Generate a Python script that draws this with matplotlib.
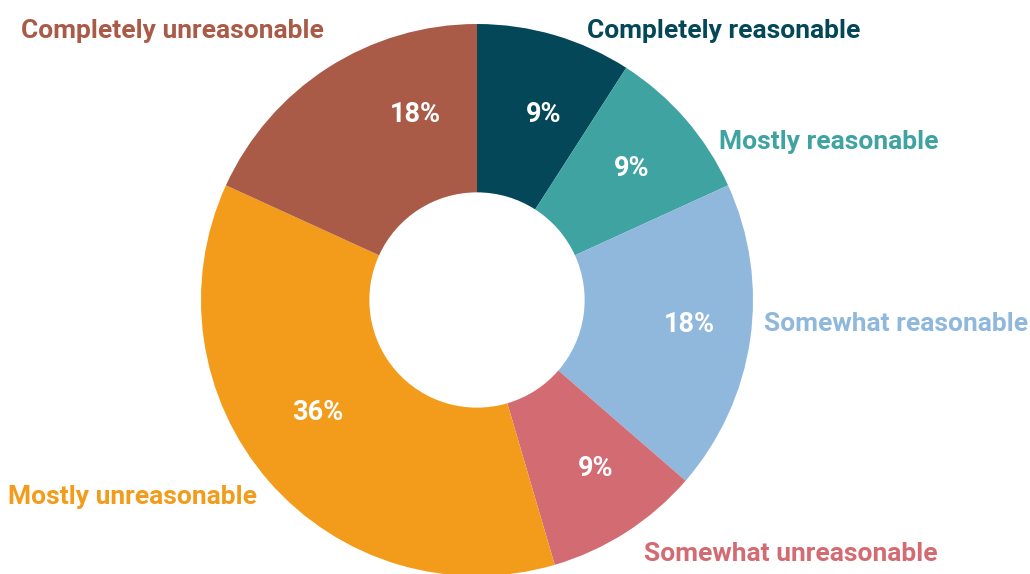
import matplotlib
matplotlib.use("Agg")
import matplotlib.pyplot as plt

categories = ["Completely reasonable", "Mostly reasonable", "Somewhat reasonable",
              "Somewhat unreasonable", "Mostly unreasonable", "Completely unreasonable"]
values = [9, 9, 18, 9, 36, 18]
pct_labels = ["9%", "9%", "18%", "9%", "36%", "18%"]
colors = ["#034759", "#3FA3A1", "#8FB8DC", "#D36B72", "#F39C1B", "#A95B48"]

# label positions in pixel space (x, y from top)
cat_pos = [(724, 31), (829, 142), (896, 324), (791, 554), (133, 497), (172, 31)]
pct_pos = [(544, 114), (632, 169), (689, 324), (596, 469), (318, 413), (415, 114)]

W, H = 1030, 574
cx, cy, R = 477, 300, 276

fig = plt.figure(figsize=(W / 100, H / 100), dpi=100)
ax = fig.add_axes([0, 0, 1, 1])
ax.pie(values, colors=colors, startangle=90, counterclock=False,
       radius=1.0, wedgeprops=dict(width=0.61, linewidth=0))
ax.set_xlim((0 - cx) / R, (W - cx) / R)
ax.set_ylim((cy - H) / R, (cy - 0) / R)
ax.set_aspect("equal")
ax.axis("off")

def to_data(px, py):
    return (px - cx) / R, (cy - py) / R

for cat, col, (px, py) in zip(categories, colors, cat_pos):
    x, y = to_data(px, py)
    ax.text(x, y, cat, color=col, fontsize=19, fontweight="bold",
            family=["Roboto", "DejaVu Sans"], ha="center", va="center")

for lab, (px, py) in zip(pct_labels, pct_pos):
    x, y = to_data(px, py)
    ax.text(x, y, lab, color="white", fontsize=19.5, fontweight="bold",
            family=["Roboto", "DejaVu Sans"], ha="center", va="center")

fig.savefig("out.png", dpi=100)
